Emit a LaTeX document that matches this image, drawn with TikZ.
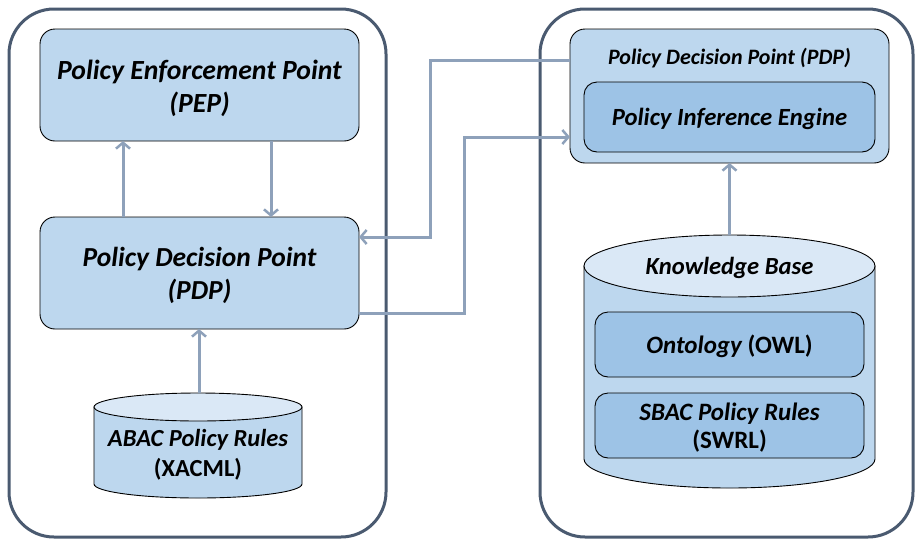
\documentclass[tikz,border=0pt]{standalone}
\usepackage{fontspec}
\setmainfont{Carlito}
\usetikzlibrary{arrows.meta}
\definecolor{boxfill}{HTML}{BDD7EE}
\definecolor{innerfill}{HTML}{9DC3E6}
\definecolor{topfill}{HTML}{DAE8F6}
\definecolor{arrowc}{HTML}{8EA1BA}
\definecolor{outerc}{HTML}{4A5A70}
\tikzset{
  outerbox/.style={draw=outerc, line width=3pt, rounded corners=45pt},
  block/.style={draw=black, line width=0.9pt, fill=boxfill, rounded corners=15pt},
  innerblock/.style={draw=black, line width=0.9pt, fill=innerfill, rounded corners=13pt},
  label/.style={align=center, font=\bfseries\itshape},
  flow/.style={draw=arrowc, line width=3pt, -{Straight Barb[length=6pt,width=14pt,line width=2.5pt]}},
  cylbody/.style={draw=black, line width=0.9pt, fill=boxfill},
  cyltop/.style={draw=black, line width=0.9pt, fill=topfill}
}
\begin{document}
\begin{tikzpicture}[x=1pt,y=-1pt]
\useasboundingbox (0,0) rectangle (916,539);
% outer containers
\draw[outerbox] (9,9) rectangle (386,537);
\draw[outerbox] (540,9) rectangle (913,537);

% left side
\draw[block] (40,29) rectangle (359,141);
\node[label, font=\fontsize{27.7}{33}\selectfont\bfseries\itshape] (pep) at (199.5,88) {Policy Enforcement Point\\(PEP)};
\coordinate (pepS1) at (123,141);
\coordinate (pepS2) at (271,141);

\draw[block] (40,217) rectangle (359,329);
\node[label, font=\fontsize{27.5}{33}\selectfont\bfseries\itshape] (pdp) at (199.5,275.5) {Policy Decision Point\\(PDP)};
\coordinate (pdpN1) at (123,217);
\coordinate (pdpN2) at (271,217);
\coordinate (pdpE1) at (359,237);
\coordinate (pdpE2) at (359,313);
\coordinate (pdpS) at (199,329);

% ABAC cylinder
\draw[cylbody] (94,407) -- (94,484) arc[start angle=180, end angle=360, x radius=104pt, y radius=14pt] -- (302,407) -- cycle;
\draw[cyltop] (198,407) ellipse [x radius=104pt, y radius=14pt];
\coordinate (abacN) at (199,393);
\node[align=center, font=\fontsize{24.5}{30}\selectfont\bfseries] (abac) at (198,455) {\itshape ABAC Policy Rules\\(XACML)};

% right side
\draw[block] (570,29) rectangle (889,163);
\node[font=\fontsize{22}{26}\selectfont\bfseries\itshape] (rpdp) at (729.5,58.5) {Policy Decision Point (PDP)};
\draw[innerblock] (584,82) rectangle (875,152);
\node[font=\fontsize{24.7}{28}\selectfont\bfseries\itshape] (engine) at (729.5,118.5) {Policy Inference Engine};
\coordinate (rpdpW1) at (570,60);
\coordinate (rpdpW2) at (570,137);
\coordinate (rpdpS) at (729.5,163);

% Knowledge base cylinder
\draw[cylbody] (584,266) -- (584,459) arc[start angle=180, end angle=360, x radius=145.5pt, y radius=29pt] -- (875,266) -- cycle;
\draw[cyltop] (729.5,266) ellipse [x radius=145.5pt, y radius=31pt];
\node[font=\fontsize{24.6}{28}\selectfont\bfseries\itshape] (kb) at (729.5,267.5) {Knowledge Base};
\coordinate (kbN) at (729.5,235);
\draw[innerblock] (595,312) rectangle (864,377);
\node[font=\fontsize{25}{28}\selectfont\bfseries] (onto) at (729.5,346.5) {\itshape Ontology\upshape\ (OWL)};
\draw[innerblock] (595,393) rectangle (864,458);
\node[align=center, font=\fontsize{25}{28}\selectfont\bfseries] (sbac) at (729.5,427.5) {\itshape SBAC Policy Rules\\(SWRL)};

% connectors
\draw[flow] (pdpN1) -- (pepS1);
\draw[flow] (pepS2) -- (pdpN2);
\draw[flow] (abacN) -- (pdpS);
\draw[flow] (kbN) -- (rpdpS);
\draw[flow] (rpdpW1) -| (430,237) -- (pdpE1);
\draw[flow] (pdpE2) -| (464,137) -- (rpdpW2);
\end{tikzpicture}
\end{document}
